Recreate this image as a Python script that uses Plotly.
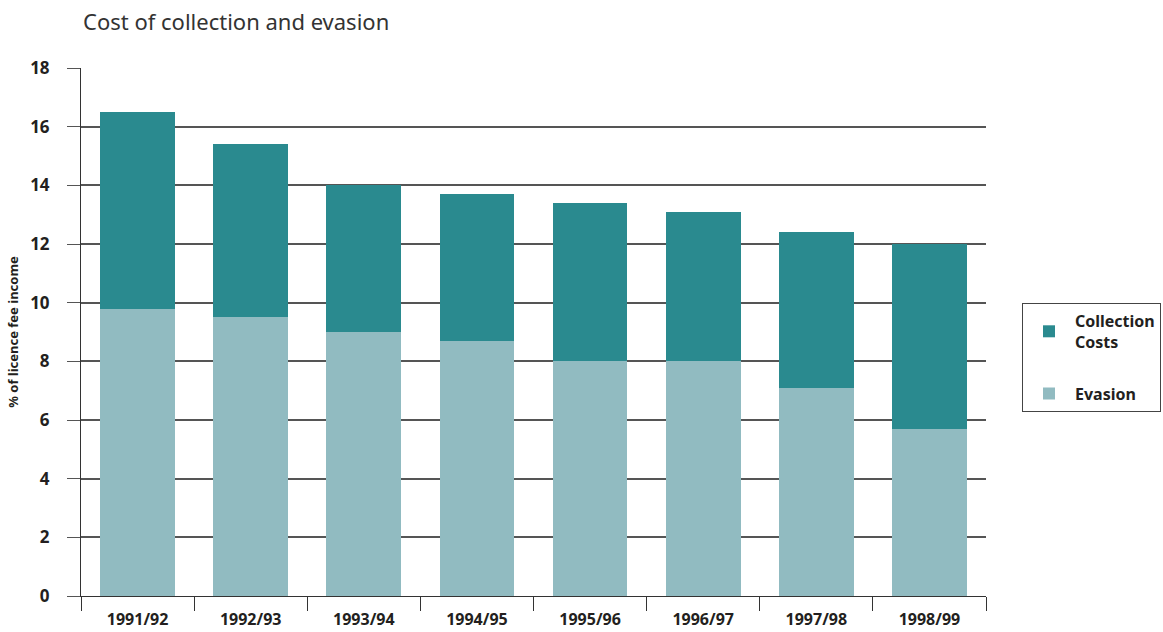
import plotly.graph_objects as go

years = ["1991/92", "1992/93", "1993/94", "1994/95", "1995/96", "1996/97", "1997/98", "1998/99"]
evasion = [9.8, 9.5, 9.0, 8.7, 8.0, 8.0, 7.1, 5.7]
collection = [6.7, 5.9, 5.0, 5.0, 5.4, 5.1, 5.3, 6.3]

FONT = "Noto Sans"
TXT = "#231f20"

fig = go.Figure()
fig.add_trace(go.Bar(x=years, y=evasion, name="Evasion", legendgroup="e", legendrank=2,
                     marker=dict(color="#91bbc1", line=dict(width=0))))
fig.add_trace(go.Bar(x=years, y=collection, name="Collection<br>Costs", legendgroup="c", legendrank=1,
                     marker=dict(color="#2a8a8f", line=dict(width=0))))

fig.update_layout(
    width=1163, height=632,
    barmode="stack", bargap=0.34,
    plot_bgcolor="white", paper_bgcolor="white",
    margin=dict(l=81, r=177, t=68, b=36),
    font=dict(family=FONT, color=TXT),
    title=dict(text="Cost of collection and evasion", x=83/1163, xanchor="left", y=1-22/632, yanchor="middle",
               font=dict(size=22, family=FONT, color="#333333")),
    legend=dict(xref="container", yref="container", x=1022/1163, xanchor="left", y=1-303/632, yanchor="top",
                traceorder="grouped",
                bordercolor="#444444", borderwidth=1, bgcolor="white",
                font=dict(size=16, family=FONT, color=TXT, weight="bold"),
                itemwidth=42, tracegroupgap=28),
    xaxis=dict(showline=True, linecolor="#333333", linewidth=1, ticks="outside", tickson="boundaries",
               ticklen=14, tickcolor="#333333", tickwidth=1, ticklabelstandoff=9, automargin=False,
               tickfont=dict(size=16, family=FONT, color=TXT, weight="bold"), showgrid=False),
    yaxis=dict(range=[0, 18], dtick=2, showgrid=True, gridcolor="#555555", gridwidth=1.5,
               showline=True, linecolor="#333333", linewidth=1, ticks="outside", ticklen=13,
               tickcolor="#555555", zeroline=False, ticklabelstandoff=14, automargin=False,
               tickfont=dict(size=17, family=FONT, color=TXT, weight="bold"),
               title=dict(text="% of licence fee income", font=dict(size=13, family=FONT, color=TXT, weight="bold"), standoff=8)),
)
fig.write_html("out.html")
